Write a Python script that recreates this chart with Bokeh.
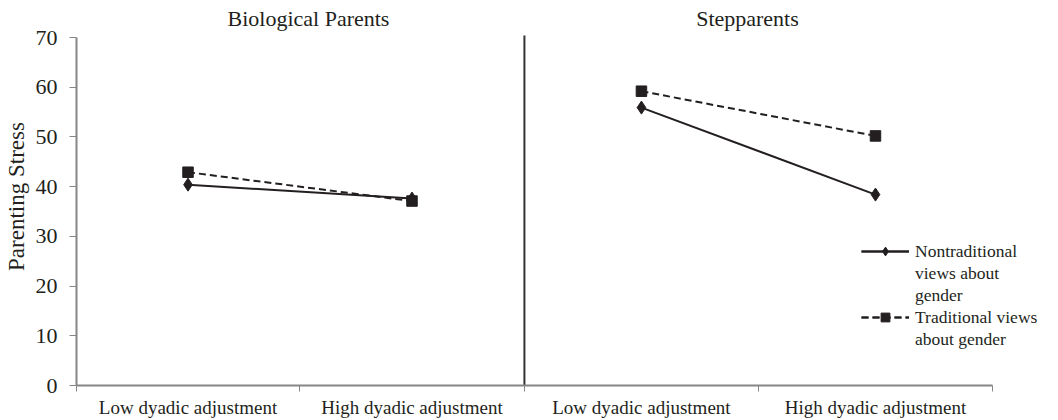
from bokeh.plotting import figure
from bokeh.models import FixedTicker, Label, Legend, LegendItem
from bokeh.embed import file_html
from bokeh.resources import INLINE

# ---- data ----
panels = ["Biological Parents", "Stepparents"]
categories = ["Low dyadic adjustment", "High dyadic adjustment"]
bio_nontrad = [40.4, 37.6]
bio_trad = [42.9, 37.1]
step_nontrad = [55.9, 38.4]
step_trad = [59.2, 50.2]
y_ticks = [0, 10, 20, 30, 40, 50, 60, 70]
series_lines = [["Nontraditional", "views about", "gender"], ["Traditional views", "about gender"]]

FONT = "Liberation Serif"
INK = "#231f20"
AXIS = "#868686"

# layout (page pixels)
AX_L, AX_R, AX_T, AX_B = 79, 995, 38, 386   # axis box in page px
FR_T, FR_R = 8, 1050                          # frame extends to hold titles / legend
y_end = 70 * (AX_B - FR_T) / (AX_B - AX_T)
x_end = 4 * (FR_R - AX_L) / (AX_R - AX_L)
# category boundaries (two side-by-side panels of slightly different width)
edges = [0, 0.974, 1.956, 2.978, 4.0]

centers = [(a + b) / 2 for a, b in zip(edges[:-1], edges[1:])]
bio_x = centers[:2]
step_x = centers[2:]

p = figure(frame_width=FR_R - AX_L, frame_height=AX_B - FR_T,
           output_backend="svg", toolbar_location=None,
           x_range=(0, x_end), y_range=(0, y_end),
           min_border_left=AX_L - 8, min_border_right=0,
           min_border_top=7, min_border_bottom=20)
p.outline_line_color = None
p.grid.visible = False

# divider between the two panels
p.segment(x0=[edges[2]], y0=[0], x1=[edges[2]], y1=[70.4], line_color="#333333", line_width=2)

# series 1: nontraditional (solid, diamonds)
r1 = [p.line(xs, ys, line_color=INK, line_width=2)
      for xs, ys in ((bio_x, bio_nontrad), (step_x, step_nontrad))]
r1.append(p.scatter(bio_x + step_x, bio_nontrad + step_nontrad, marker="diamond",
                    size=13, fill_color=INK, line_color=INK))

# series 2: traditional (dashed, squares)
r2 = [p.line(xs, ys, line_color=INK, line_width=2, line_dash="7 4")
      for xs, ys in ((bio_x, bio_trad), (step_x, step_trad))]
r2.append(p.scatter(bio_x + step_x, bio_trad + step_trad, marker="square",
                    size=10.5, fill_color=INK, line_color=INK))

# blank legend glyph for wrapped label lines
blank = p.line(x=[], y=[], line_alpha=0)

# panel titles
for xc, t in zip((1.013, 2.93), panels):
    p.add_layout(Label(x=xc, y=73.8, text=t, text_align="center", text_baseline="alphabetic",
                       text_font=FONT, text_font_size="22px", text_color=INK))

# x axis
xa = p.xaxis[0]
xa.bounds = (0, 4)
xa.ticker = FixedTicker(ticks=centers, minor_ticks=edges)
xa.major_label_overrides = {x: c for x, c in zip(centers, categories + categories)}
xa.major_tick_line_color = None
xa.major_tick_out = 0
xa.major_tick_in = 0
xa.minor_tick_out = 6
xa.minor_tick_in = 0
xa.minor_tick_line_color = AXIS
xa.axis_line_color = AXIS
xa.axis_line_width = 2
xa.major_label_text_font = FONT
xa.major_label_text_font_size = "19px"
xa.major_label_text_color = INK
xa.major_label_standoff = 5

# y axis
ya = p.yaxis[0]
ya.bounds = (0, 70)
ya.ticker = FixedTicker(ticks=y_ticks)
ya.minor_tick_line_color = None
ya.major_tick_out = 7
ya.major_tick_in = 0
ya.major_tick_line_color = AXIS
ya.axis_line_color = AXIS
ya.axis_line_width = 2
ya.major_label_text_font = FONT
ya.major_label_text_font_size = "22px"
ya.major_label_text_color = INK
ya.major_label_standoff = 12
ya.axis_label = "Parenting Stress"
ya.axis_label_text_font = FONT
ya.axis_label_text_font_size = "23px"
ya.axis_label_text_font_style = "normal"
ya.axis_label_text_color = INK
ya.axis_label_standoff = 4

# legend
items = []
for lines, rs in zip(series_lines, (r1, r2)):
    items.append(LegendItem(label=lines[0], renderers=rs))
    for extra in lines[1:]:
        items.append(LegendItem(label=extra, renderers=[blank]))
lg = Legend(items=items, location=(863 - AX_L + 1, 35))
lg.background_fill_alpha = 0
lg.border_line_color = None
lg.padding = 0
lg.margin = 0
lg.spacing = 0
lg.glyph_width = 48
lg.glyph_height = 22
lg.label_height = 22
lg.label_standoff = 6
lg.label_text_font = FONT
lg.label_text_font_size = "17.5px"
lg.label_text_color = INK
p.add_layout(lg)

open("out.html", "w").write(file_html(p, INLINE))
